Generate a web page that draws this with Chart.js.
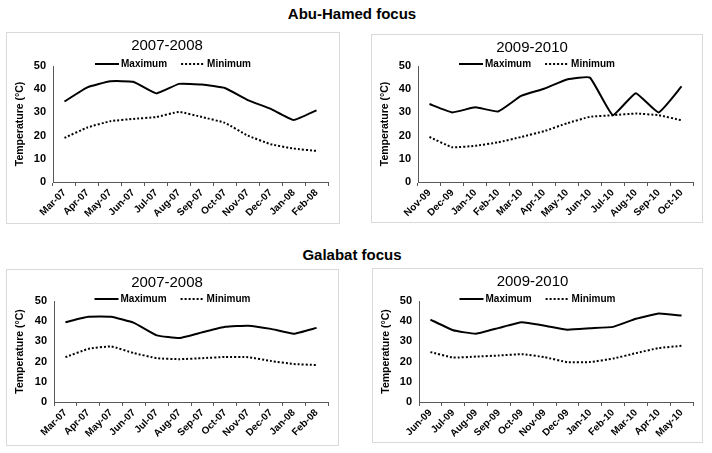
<!DOCTYPE html>
<html>
<head>
<meta charset="utf-8">
<script src="https://cdn.jsdelivr.net/npm/chart.js@4.4.1/dist/chart.umd.min.js"></script>
<style>
  body { margin: 0; background: #fff; width: 712px; height: 453px; position: relative; overflow: hidden; font-family: "Liberation Sans", Arial, sans-serif; }
  .head { position: absolute; left: 0; width: 704px; text-align: center; font-weight: bold; font-size: 15px; color: #000; }
  .box { position: absolute; border: 1px solid #d9d9d9; box-sizing: border-box; }
  .box canvas { position: absolute; left: -1px; top: -1px; }
</style>
</head>
<body>
<div class="head" style="top:5px">Abu-Hamed focus</div>
<div class="head" style="top:246px">Galabat focus</div>

<div class="box" id="b1" style="left:6px;top:32px;width:334px;height:192px"><canvas id="c1" width="334" height="192"></canvas></div>
<div class="box" id="b2" style="left:371px;top:34px;width:332px;height:189px"><canvas id="c2" width="332" height="189"></canvas></div>
<div class="box" id="b3" style="left:6px;top:269px;width:333px;height:177px"><canvas id="c3" width="333" height="177"></canvas></div>
<div class="box" id="b4" style="left:372px;top:268px;width:331px;height:175px"><canvas id="c4" width="331" height="175"></canvas></div>

<script>
// Abu-Hamed
const abuLabels0708 = ["Mar-07", "Apr-07", "May-07", "Jun-07", "Jul-07", "Aug-07", "Sep-07", "Oct-07", "Nov-07", "Dec-07", "Jan-08", "Feb-08"];
const abuMax0708 = [34.7, 40.8, 43.4, 43.2, 38.2, 42.3, 42, 40.5, 35.3, 31.5, 26.7, 30.9];
const abuMin0708 = [19, 23.5, 26.2, 27.2, 28, 30.2, 28, 25.5, 20, 16.3, 14.4, 13.4];

const abuLabels0910 = ["Nov-09", "Dec-09", "Jan-10", "Feb-10", "Mar-10", "Apr-10", "May-10", "Jun-10", "Jul-10", "Aug-10", "Sep-10", "Oct-10"];
const abuMax0910 = [33.6, 30, 32.2, 30.4, 37.1, 40.2, 44.2, 45, 28.8, 38.3, 30, 41.2];
const abuMin0910 = [19.4, 15, 15.6, 17.1, 19.4, 21.9, 25.3, 28.1, 28.8, 29.5, 28.8, 26.6];

// Galabat
const galLabels0708 = ["Mar-07", "Apr-07", "May-07", "Jun-07", "Jul-07", "Aug-07", "Sep-07", "Oct-07", "Nov-07", "Dec-07", "Jan-08", "Feb-08"];
const galMax0708 = [39.5, 42.2, 42.2, 39.2, 33, 31.7, 34.5, 37.2, 37.8, 36.2, 33.8, 36.7];
const galMin0708 = [22.2, 26.3, 27.5, 24.2, 21.7, 21.2, 21.7, 22.3, 22.2, 20.3, 18.8, 18.3];

const galLabels0910 = ["Jun-09", "Jul-09", "Aug-09", "Sep-09", "Oct-09", "Nov-09", "Dec-09", "Jan-10", "Feb-10", "Mar-10", "Apr-10", "May-10"];
const galMax0910 = [40.8, 35.5, 33.8, 36.7, 39.5, 37.8, 35.8, 36.5, 37.2, 41.2, 43.8, 42.8];
const galMin0910 = [24.7, 22, 22.5, 23, 23.7, 22.2, 19.7, 19.8, 21.5, 24.2, 26.7, 27.8];

const yTicks = [0, 10, 20, 30, 40, 50];

const FONT = "'Liberation Sans', Arial, sans-serif";
const AXIS = "#595959";
const DOTS = [2, 2];

// legend drawn by hand so it can sit on top of the plot like in excel
const topLegend = {
  id: "topLegend",
  afterDraw(chart) {
    const ctx = chart.ctx;
    const items = chart.data.datasets;
    const sample = 24, gap = 2, between = 14;
    ctx.save();
    ctx.font = "bold 10px " + FONT;
    let total = 0;
    items.forEach((d, i) => {
      total += sample + gap + ctx.measureText(d.label).width;
      if (i < items.length - 1) total += between;
    });
    let x = (chart.width - total) / 2;
    const y = chart.chartArea.top - 2;
    items.forEach((d) => {
      ctx.beginPath();
      ctx.strokeStyle = d.borderColor;
      ctx.lineWidth = d.borderWidth;
      ctx.setLineDash(d.borderDash || []);
      ctx.moveTo(x, y);
      ctx.lineTo(x + sample, y);
      ctx.stroke();
      x += sample + gap;
      ctx.fillStyle = "#000";
      ctx.textBaseline = "middle";
      ctx.fillText(d.label, x, y + 0.5);
      x += ctx.measureText(d.label).width + between;
    });
    ctx.restore();
  },
};

function makePanel(id, title, labels, maxData, minData, pad) {
  new Chart(document.getElementById(id), {
    type: "line",
    data: {
      labels: labels,
      datasets: [
        {
          label: "Maximum",
          data: maxData,
          borderColor: "#000",
          borderWidth: 2,
          pointRadius: 0,
          tension: 0.12,
          fill: false,
        },
        {
          label: "Minimum",
          data: minData,
          borderColor: "#000",
          borderWidth: 2,
          borderDash: DOTS,
          pointRadius: 0,
          tension: 0.12,
          fill: false,
        },
      ],
    },
    options: {
      responsive: false,
      animation: false,
      layout: { padding: { left: 0, right: pad.r, top: 0, bottom: 0 } },
      scales: {
        x: {
          type: "category",
          offset: true,
          grid: { offset: true, drawOnChartArea: false, drawTicks: true, tickLength: 4, color: AXIS },
          border: { color: AXIS, width: 1 },
          ticks: {
            maxRotation: 45,
            minRotation: 45,
            autoSkip: false,
            padding: 1,
            color: "#000",
            font: { family: FONT, size: 10, weight: "bold" },
          },
          afterFit: (s) => { s.height = pad.b; },
        },
        y: {
          min: 0,
          max: 50,
          afterBuildTicks: (s) => { s.ticks = yTicks.map((v) => ({ value: v })); },
          grid: { display: false, drawTicks: false },
          border: { color: AXIS, width: 1 },
          ticks: {
            padding: 7,
            color: "#000",
            font: { family: FONT, size: 11, weight: "bold" },
          },
          title: {
            display: true,
            text: "Temperature (°C)",
            color: "#000",
            padding: { top: 8, bottom: 0 },
            font: { family: FONT, size: 10.5, weight: "bold" },
          },
          afterFit: (s) => { s.width = pad.l; },
        },
      },
      plugins: {
        legend: { display: false },
        tooltip: { enabled: false },
        title: {
          display: true,
          text: title,
          color: "#000",
          padding: { top: 5, bottom: pad.t - 23 },
          font: { family: FONT, size: 15, weight: "normal" },
        },
      },
    },
    plugins: [topLegend],
  });
}

makePanel("c1", "2007-2008", abuLabels0708, abuMax0708, abuMin0708, { l: 47, r: 12, t: 34, b: 42 });
makePanel("c2", "2009-2010", abuLabels0910, abuMax0910, abuMin0910, { l: 47, r: 10, t: 32, b: 41 });
makePanel("c3", "2007-2008", galLabels0708, galMax0708, galMin0708, { l: 48, r: 11, t: 32, b: 44 });
makePanel("c4", "2009-2010", galLabels0910, galMax0910, galMin0910, { l: 47, r: 10, t: 33, b: 41 });
</script>
</body>
</html>
